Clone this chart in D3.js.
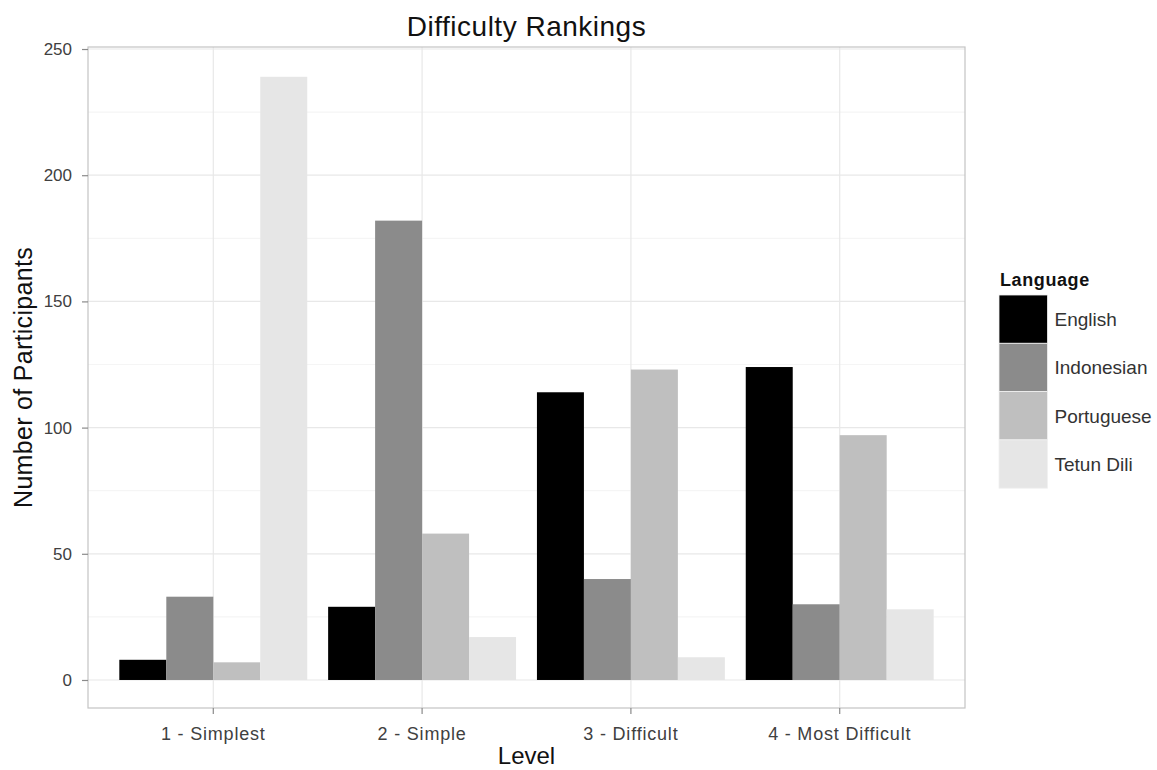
<!DOCTYPE html>
<html>
<head>
<meta charset="utf-8">
<script src="https://cdn.jsdelivr.net/npm/d3@7"></script>
<style>
  body { margin: 0; background: #fff; }
  svg { display: block; font-family: "Liberation Sans", Arial, sans-serif; }
</style>
</head>
<body>
<svg id="chart" width="1157" height="770"></svg>
<script>
const levels = ["1 - Simplest", "2 - Simple", "3 - Difficult", "4 - Most Difficult"];
const languages = ["English", "Indonesian", "Portuguese", "Tetun Dili"];
const english    = [8, 29, 114, 124];
const indonesian = [33, 182, 40, 30];
const portuguese = [7, 58, 123, 97];
const tetun      = [239, 17, 9, 28];
const yTicks = [0, 50, 100, 150, 200, 250];
const yMinorTicks = [25, 75, 125, 175, 225];
const fills = ["#000000", "#8b8b8b", "#bfbfbf", "#e6e6e6"];

const seriesValues = [english, indonesian, portuguese, tetun];
const data = [];
levels.forEach((lv, i) => languages.forEach((lang, j) => data.push({level: lv, lang, value: seriesValues[j][i]})));

const svg = d3.select("#chart");
const panel = {left: 88, right: 965, top: 47, bottom: 708};

// discrete x with ggplot-style expansion (0.6 units on each side)
const xCont = d3.scaleLinear().domain([0.4, levels.length + 0.6]).range([panel.left, panel.right]);
const x = d3.scaleBand().domain(levels)
  .range([xCont(0.5), xCont(levels.length + 0.5)]).paddingInner(0.1).paddingOuter(0.05);
const xSub = d3.scaleBand().domain(languages).range([0, x.bandwidth()]);
const y = d3.scaleLinear().domain([-11.1, 250.8]).range([panel.bottom, panel.top]);
const color = d3.scaleOrdinal().domain(languages).range(fills);

// panel background & grid
svg.append("rect").attr("x", panel.left).attr("y", panel.top)
  .attr("width", panel.right - panel.left).attr("height", panel.bottom - panel.top).attr("fill", "#fff");

const grid = svg.append("g");
grid.selectAll(".minor").data(yMinorTicks).join("line")
  .attr("x1", panel.left).attr("x2", panel.right)
  .attr("y1", d => y(d)).attr("y2", d => y(d))
  .attr("stroke", "#f5f5f5").attr("stroke-width", 1.2);
grid.selectAll(".major").data(yTicks).join("line")
  .attr("x1", panel.left).attr("x2", panel.right)
  .attr("y1", d => y(d)).attr("y2", d => y(d))
  .attr("stroke", "#e8e8e8").attr("stroke-width", 1.2);
grid.selectAll(".vmajor").data(levels).join("line")
  .attr("x1", d => x(d) + x.bandwidth() / 2).attr("x2", d => x(d) + x.bandwidth() / 2)
  .attr("y1", panel.top).attr("y2", panel.bottom)
  .attr("stroke", "#e8e8e8").attr("stroke-width", 1.2);

// bars
svg.append("g").selectAll("rect").data(data).join("rect")
  .attr("x", d => x(d.level) + xSub(d.lang))
  .attr("width", xSub.bandwidth())
  .attr("y", d => y(d.value))
  .attr("height", d => y(0) - y(d.value))
  .attr("fill", d => color(d.lang));

// panel border
svg.append("rect").attr("x", panel.left).attr("y", panel.top)
  .attr("width", panel.right - panel.left).attr("height", panel.bottom - panel.top)
  .attr("fill", "none").attr("stroke", "#c4c4c4").attr("stroke-width", 1.2);

// y axis
const yAxis = svg.append("g").attr("transform", `translate(${panel.left},0)`)
  .call(d3.axisLeft(y).tickValues(yTicks).tickSize(6).tickPadding(10));
yAxis.select(".domain").remove();
yAxis.selectAll(".tick line").attr("stroke", "#8a8a8a").attr("stroke-width", 1.2);
yAxis.selectAll(".tick text").attr("fill", "#404040").attr("font-size", 17)
  .attr("font-family", "Liberation Sans, Arial, sans-serif");

// x axis
const xAxis = svg.append("g").attr("transform", `translate(0,${panel.bottom})`)
  .call(d3.axisBottom(x).tickSize(6).tickPadding(6));
xAxis.select(".domain").remove();
xAxis.selectAll(".tick line").attr("stroke", "#8a8a8a").attr("stroke-width", 1.2);
xAxis.selectAll(".tick text").attr("fill", "#404040").attr("font-size", 18)
  .attr("letter-spacing", 0.8)
  .attr("y", 32).attr("dy", null)
  .attr("font-family", "Liberation Sans, Arial, sans-serif");

// titles
svg.append("text").attr("x", (panel.left + panel.right) / 2).attr("y", 36)
  .attr("text-anchor", "middle").attr("font-size", 28).attr("letter-spacing", 0.5)
  .attr("fill", "#111").text("Difficulty Rankings");
svg.append("text").attr("x", (panel.left + panel.right) / 2).attr("y", 764)
  .attr("text-anchor", "middle").attr("font-size", 24).attr("fill", "#111").text("Level");
svg.append("text")
  .attr("transform", `translate(32,${(panel.top + panel.bottom) / 2}) rotate(-90)`)
  .attr("text-anchor", "middle").attr("font-size", 25).attr("letter-spacing", 0.3)
  .attr("fill", "#111").text("Number of Participants");

// legend
const legend = svg.append("g").attr("transform", "translate(999,295)");
legend.append("text").attr("x", 1).attr("y", -9).attr("font-size", 18).attr("font-weight", "bold")
  .attr("letter-spacing", 0.6).attr("fill", "#111").text("Language");
const keyH = 48.3, keyW = 48.5;
const items = legend.selectAll("g.item").data(languages).join("g")
  .attr("transform", (d, i) => `translate(0,${i * keyH})`);
items.append("rect").attr("width", keyW).attr("height", keyH)
  .attr("fill", d => color(d)).attr("stroke", "#f0f0f0").attr("stroke-width", 0.8);
items.append("text").attr("x", keyW + 7).attr("y", keyH / 2 + 7)
  .attr("font-size", 19).attr("fill", "#333").text(d => d);
</script>
</body>
</html>
